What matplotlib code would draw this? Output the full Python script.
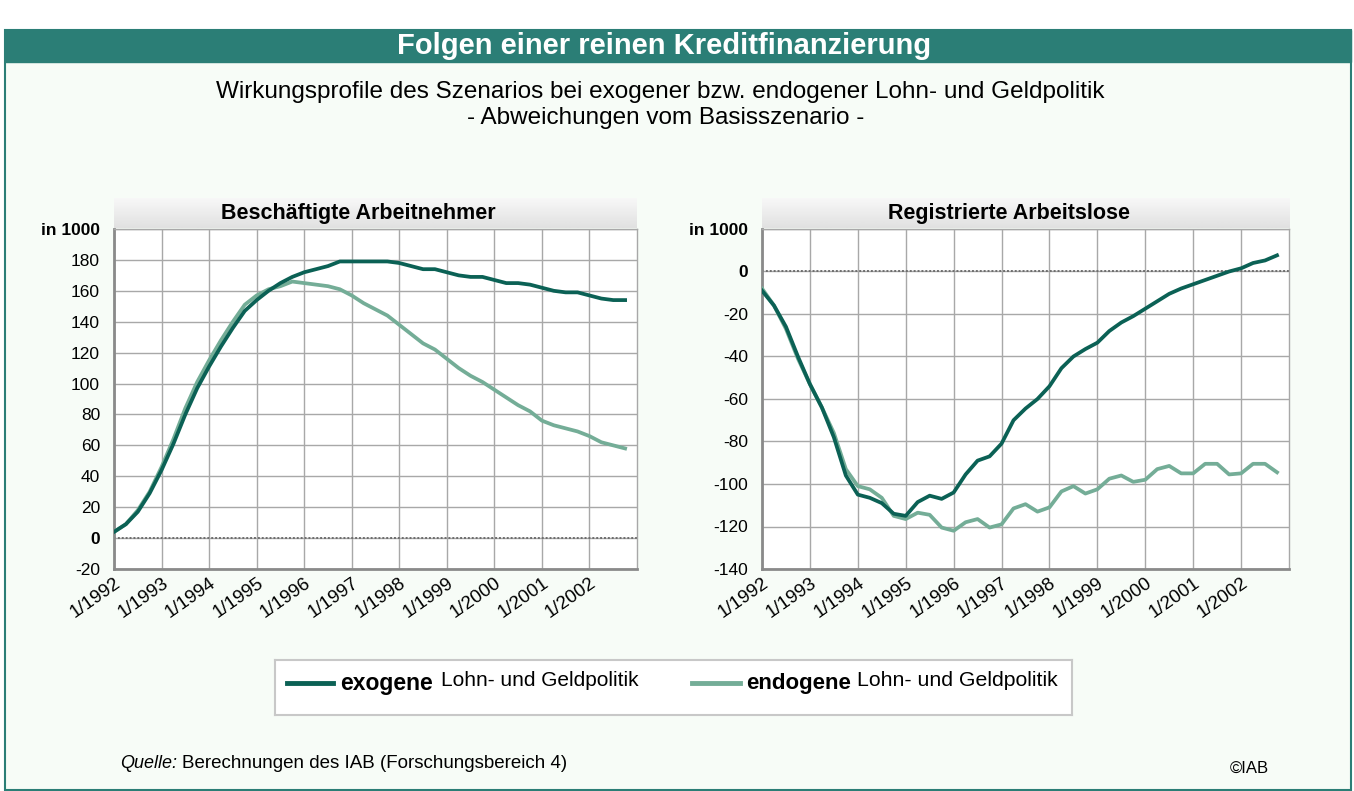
import numpy as np
import matplotlib.pyplot as plt
from matplotlib.patches import Rectangle

plt.rcParams['font.family'] = ['Liberation Sans', 'DejaVu Sans']

W, H = 1354, 791

# Quartalswerte 1/1992 .. 4/2002, Abweichungen vom Basisszenario in 1000
jahre = ['1/1992', '1/1993', '1/1994', '1/1995', '1/1996', '1/1997',
         '1/1998', '1/1999', '1/2000', '1/2001', '1/2002']

besch_exo = [4, 9, 17, 29, 44, 61, 80, 97, 111, 124, 136, 147,
             154, 160, 165, 169, 172, 174, 176, 179, 179, 179, 179, 179,
             178, 176, 174, 174, 172, 170, 169, 169, 167, 165, 165, 164,
             162, 160, 159, 159, 157, 155, 154, 154]
besch_endo = [4, 9, 18, 30, 46, 64, 84, 101, 115, 128, 140, 151,
              157, 161, 163, 166, 165, 164, 163, 161, 157, 152, 148, 144,
              138, 132, 126, 122, 116, 110, 105, 101, 96, 91, 86, 82,
              76, 73, 71, 69, 66, 62, 60, 58]

alo_exo = [-9, -16, -26, -40, -53, -64, -78, -96, -105, -106.5, -109, -114,
           -115, -108.5, -105.5, -107, -104, -95.5, -89, -87, -81, -70, -64.5, -60,
           -54, -45.5, -40, -36.5, -33.5, -28, -24, -21, -17.5, -14, -10.5, -8,
           -6, -4, -2, 0, 1.5, 4, 5.2, 7.6]
alo_endo = [-8, -16, -27, -41, -53, -64, -76, -93, -101, -102.5, -106.5, -115,
            -116.5, -113.5, -114.5, -120.5, -122, -118, -116.5, -120.5, -119, -111.5, -109.5, -113,
            -111, -103.5, -101, -104.5, -102.5, -97.5, -96, -99, -98, -93, -91.5, -95,
            -95, -90.5, -90.5, -95.5, -95, -90.5, -90.5, -94.5]

dunkel = '#0b6155'
hell = '#74ad97'
teal = '#2b7e76'
mint = '#f7fcf7'

fig = plt.figure(figsize=(W / 100, H / 100), dpi=100)
fig.patch.set_facecolor('white')


def rect(x0, y0, x1, y1):
    return [x0 / W, 1 - y1 / H, (x1 - x0) / W, (y1 - y0) / H]


def px(x, y):
    return x / W, 1 - y / H


# Rahmen und Kopfzeile
fig.patches.append(Rectangle(px(5, 790), 1346 / W, 760 / H, transform=fig.transFigure,
                             facecolor=mint, edgecolor=teal, lw=1.5, zorder=-2))
fig.patches.append(Rectangle(px(5, 62), 1346 / W, 32 / H, transform=fig.transFigure,
                             facecolor=teal, edgecolor=teal, lw=1, zorder=-1))
fig.text(*px(664, 46), 'Folgen einer reinen Kreditfinanzierung', color='white',
         fontsize=21, fontweight='bold', ha='center', va='center')
fig.text(*px(660, 92), 'Wirkungsprofile des Szenarios bei exogener bzw. endogener Lohn- und Geldpolitik',
         fontsize=17.5, ha='center', va='center')
fig.text(*px(666, 118), '- Abweichungen vom Basisszenario -', fontsize=17.5, ha='center', va='center')


def panel(box, titel, exo, endo, ymin, ymax):
    x0, y0, x1, y1 = box
    # Kopf mit Verlauf
    hax = fig.add_axes(rect(x0, y0 - 31, x1, y0 - 1))
    grad = np.linspace(0.97, 0.88, 50).reshape(-1, 1)
    hax.imshow(grad, aspect='auto', cmap='gray', vmin=0, vmax=1, extent=(0, 1, 0, 1))
    hax.set_axis_off()
    hax.text(0.5 - 17 / (x1 - x0), 0.5, titel, ha='center', va='center', fontsize=15.5,
             fontweight='bold', transform=hax.transAxes)

    ax = fig.add_axes(rect(x0, y0, x1, y1))
    ax.set_facecolor('white')
    x = np.arange(len(exo))
    ax.plot(x, endo, color=hell, lw=2.7, zorder=3, solid_joinstyle='round')
    ax.plot(x, exo, color=dunkel, lw=2.7, zorder=4, solid_joinstyle='round')
    ax.axhline(0, color='#6e6e6e', lw=1.4, ls=(0, (1, 1)), zorder=2)
    ax.set_xlim(0, 44)
    ax.set_ylim(ymin, ymax)
    ax.set_xticks(range(0, 44, 4))
    ax.set_xticklabels(jahre, rotation=35, ha='right', va='top', rotation_mode='anchor',
                       fontsize=13.5)
    yt = list(range(ymin, ymax + 1, 20))
    ax.set_yticks(yt)
    labs = ax.set_yticklabels(['in 1000' if v == ymax else str(v) for v in yt], fontsize=12.5)
    for v, lab in zip(yt, labs):
        if v == ymax or v == 0:
            lab.set_fontweight('bold')
    ax.grid(True, color='#a8a8a8', lw=1, zorder=1)
    ax.set_axisbelow(True)
    ax.tick_params(length=0, pad=10)
    ax.tick_params(axis='x', pad=4)
    for s in ['left', 'bottom']:
        ax.spines[s].set_color('#8a8a8a')
        ax.spines[s].set_linewidth(2)
    for s in ['top', 'right']:
        ax.spines[s].set_color('#a8a8a8')
        ax.spines[s].set_linewidth(1)
    return ax


panel((114, 229, 637, 569), 'Beschäftigte Arbeitnehmer', besch_exo, besch_endo, -20, 200)
panel((762, 229, 1289, 569), 'Registrierte Arbeitslose', alo_exo, alo_endo, -140, 20)

# Legende
lax = fig.add_axes(rect(275, 660, 1072, 715))
lax.set_xlim(275, 1072)
lax.set_ylim(715, 660)
lax.set_facecolor('white')
lax.set_xticks([])
lax.set_yticks([])
for s in lax.spines.values():
    s.set_color('#c8c8c8')
    s.set_linewidth(1.5)
lax.plot([287, 333], [683, 683], color=dunkel, lw=3.5)
lax.text(340, 684, 'exogene', fontsize=16.5, fontweight='bold', va='center')
lax.text(441, 681, 'Lohn- und Geldpolitik', fontsize=15, va='center')
lax.plot([692, 740], [683, 683], color=hell, lw=3.5)
lax.text(746, 684, 'endogene', fontsize=16, fontweight='bold', va='center')
lax.text(857, 681, 'Lohn- und Geldpolitik', fontsize=15.3, va='center')

# Fusszeile
fig.text(*px(120, 763), 'Quelle:', fontsize=13, style='italic', va='center')
fig.text(*px(182, 763), 'Berechnungen des IAB (Forschungsbereich 4)', fontsize=13.5, va='center')
fig.text(*px(1230, 768), '©IAB', fontsize=12, va='center')

fig.savefig('out.png', dpi=100, facecolor=fig.get_facecolor())
